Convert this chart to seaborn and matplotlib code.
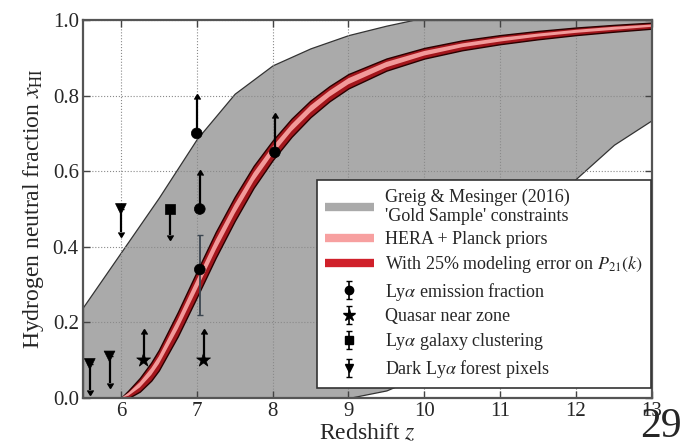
import numpy as np
import pandas as pd
import matplotlib
matplotlib.use("Agg")
import matplotlib.pyplot as plt
from matplotlib.lines import Line2D
import seaborn as sns

# ---------------- data ----------------
# Greig & Mesinger (2016) 'Gold Sample' region
gm_z = [5.5, 6.0, 6.5, 7.0, 7.5, 8.0, 8.5, 9.0, 9.5, 9.85, 10.0, 10.5, 11.0, 11.5, 12.0, 12.5, 13.0]
gm_upper = [0.24, 0.385, 0.53, 0.685, 0.805, 0.88, 0.925, 0.96, 0.985, 1.0, 1.0, 1.0, 1.0, 1.0, 1.0, 1.0, 1.0]
gm_lower = [0.0, 0.0, 0.0, 0.0, 0.0, 0.0, 0.0, 0.0, 0.02, 0.05, 0.08, 0.18, 0.30, 0.44, 0.58, 0.67, 0.735]

# HERA forecast band
band_z = [6.0, 6.1, 6.25, 6.4, 6.5, 6.75, 7.0, 7.25, 7.5, 7.75, 8.0, 8.25, 8.5, 8.75, 9.0,
          9.5, 10.0, 10.5, 11.0, 11.5, 12.0, 12.5, 13.0]
band_mid = [0.0, 0.01, 0.035, 0.07, 0.10, 0.195, 0.30, 0.405, 0.50, 0.585, 0.655, 0.715, 0.765,
            0.805, 0.838, 0.882, 0.912, 0.933, 0.948, 0.960, 0.970, 0.978, 0.985]
band_outer_w = [0.0, 0.010, 0.018, 0.024, 0.027, 0.032, 0.034, 0.034, 0.032, 0.029, 0.026, 0.024,
                0.022, 0.020, 0.019, 0.016, 0.014, 0.013, 0.012, 0.011, 0.010, 0.009, 0.008]
band_inner_w = [0.0, 0.004, 0.007, 0.009, 0.010, 0.012, 0.013, 0.013, 0.012, 0.011, 0.010, 0.009,
                0.009, 0.008, 0.008, 0.007, 0.006, 0.005, 0.005, 0.004, 0.004, 0.004, 0.003]

# observational constraints
lya_z = [7.0, 7.04, 8.03]
lya_x = [0.70, 0.50, 0.65]
lya_up = [0.09, 0.09, 0.09]
lya2_z = [7.04]
lya2_x = [0.34]
lya2_lo = [0.12]
lya2_hi = [0.09]

qso_z = [6.3, 7.09]
qso_x = [0.10, 0.10]
qso_up = [0.07, 0.07]

clus_z = [6.65]
clus_x = [0.50]
clus_dn = [0.07]

dark_z = [5.59, 5.85, 6.0]
dark_x = [0.09, 0.11, 0.50]
dark_dn = [0.07, 0.07, 0.06]

xticks = [6, 7, 8, 9, 10, 11, 12, 13]
yticks = [0.0, 0.2, 0.4, 0.6, 0.8, 1.0]

# ---------------- style ----------------
sns.set_style("ticks")
plt.rcParams['font.family'] = ['Liberation Serif', 'DejaVu Serif']
plt.rcParams['mathtext.fontset'] = 'stix'

fig = plt.figure(figsize=(6.84, 4.48), dpi=100)
ax = fig.add_axes([0.1213, 0.1116, 0.8317, 0.8438])

gray = '#aaaaaa'
ax.fill_between(gm_z, gm_lower, gm_upper, facecolor=gray, edgecolor='#333333', linewidth=0.9, zorder=1)

bz = np.array(band_z)
bm = np.array(band_mid)
bo = np.array(band_outer_w)
bi = np.array(band_inner_w)
ax.fill_between(bz, bm - bo, bm + bo, facecolor='#a3161c', edgecolor='#2a0000', linewidth=1.0, zorder=3)
ax.fill_between(bz, bm - bi, bm + bi, facecolor='#f29a9a', edgecolor='none', zorder=3.1)

# markers through seaborn
pts = pd.DataFrame({
    'z': lya_z + lya2_z + qso_z + clus_z + dark_z,
    'x': lya_x + lya2_x + qso_x + clus_x + dark_x,
    'kind': ['lya'] * len(lya_z) + ['lya'] * len(lya2_z) + ['qso'] * len(qso_z)
            + ['clus'] * len(clus_z) + ['dark'] * len(dark_z),
})
sns.scatterplot(data=pts, x='z', y='x', style='kind', size='kind',
                markers={'lya': 'o', 'qso': '*', 'clus': 's', 'dark': 'v'},
                sizes={'lya': 60, 'qso': 110, 'clus': 50, 'dark': 60},
                color='black', edgecolor='black', linewidth=0.5,
                legend=False, ax=ax, zorder=5)

ekw = dict(fmt='none', ecolor='black', color='black', elinewidth=1.6, capsize=2.3, zorder=4)
ax.errorbar(lya_z, lya_x, yerr=[np.zeros(len(lya_z)), lya_up], lolims=True, **ekw)
ax.errorbar(qso_z, qso_x, yerr=[np.zeros(len(qso_z)), qso_up], lolims=True, **ekw)
ax.errorbar(clus_z, clus_x, yerr=[clus_dn, np.zeros(len(clus_z))], uplims=True, **ekw)
ax.errorbar(dark_z, dark_x, yerr=[dark_dn, np.zeros(len(dark_z))], uplims=True, **ekw)
ax.errorbar(lya2_z, lya2_x, yerr=[lya2_lo, lya2_hi], fmt='none', ecolor='#3c4650', color='#3c4650',
            elinewidth=1.3, capsize=2, zorder=4)

# ---------------- axes ----------------
ax.set_xlim(5.5, 13)
ax.set_ylim(0, 1)
ax.set_xticks(xticks)
ax.set_yticks(yticks)
ax.set_xticklabels([str(t) for t in xticks])
ax.set_yticklabels([f"{t:.1f}" for t in yticks])
ax.tick_params(direction='in', top=True, right=True, length=5, width=1, labelsize=15,
               color='#444444', pad=3)
ax.grid(True, linestyle=':', color='#8a8a8a', linewidth=0.8)
ax.set_axisbelow(False)
for s in ax.spines.values():
    s.set_color('#555555')
    s.set_linewidth(1.6)
    s.set_zorder(6)

ax.set_xlabel(r"Redshift $z$", fontsize=17, labelpad=1)
ax.set_ylabel(r"Hydrogen neutral fraction $x_{\rm HI}$", fontsize=17, labelpad=5)

# ---------------- legend ----------------
def eb_proxy(marker, ms):
    return ax.errorbar([np.nan], [np.nan], yerr=[[0.1]], fmt=marker, color='black', ms=ms,
                       elinewidth=1.2, capsize=2)

handles = [
    Line2D([], [], color=gray, lw=6, solid_capstyle='butt'),
    Line2D([], [], color='#f7a0a0', lw=6, solid_capstyle='butt'),
    Line2D([], [], color='#d0202a', lw=6, solid_capstyle='butt'),
    eb_proxy('o', 6),
    eb_proxy('*', 9),
    eb_proxy('s', 5.5),
    eb_proxy('v', 6),
]
labels = [
    "Greig & Mesinger (2016)\n'Gold Sample' constraints",
    "HERA + Planck priors",
    r"With 25% modeling error on $P_{21}(k)$",
    r"Ly$\alpha$ emission fraction",
    "Quasar near zone",
    r"Ly$\alpha$ galaxy clustering",
    r"Dark Ly$\alpha$ forest pixels",
]
leg = ax.legend(handles, labels, loc='lower right', bbox_to_anchor=(0.998, 0.026),
                fontsize=13, frameon=True, fancybox=False,
                framealpha=1, edgecolor='#333333', borderaxespad=0.0, handlelength=2.7,
                labelspacing=0.32, borderpad=0.45, handletextpad=0.6)
leg.get_frame().set_linewidth(1.2)
leg.set_zorder(10)

fig.text(0.997, 0.004, "29", fontsize=30, ha='right', va='bottom')

fig.savefig("out.png", dpi=100)
